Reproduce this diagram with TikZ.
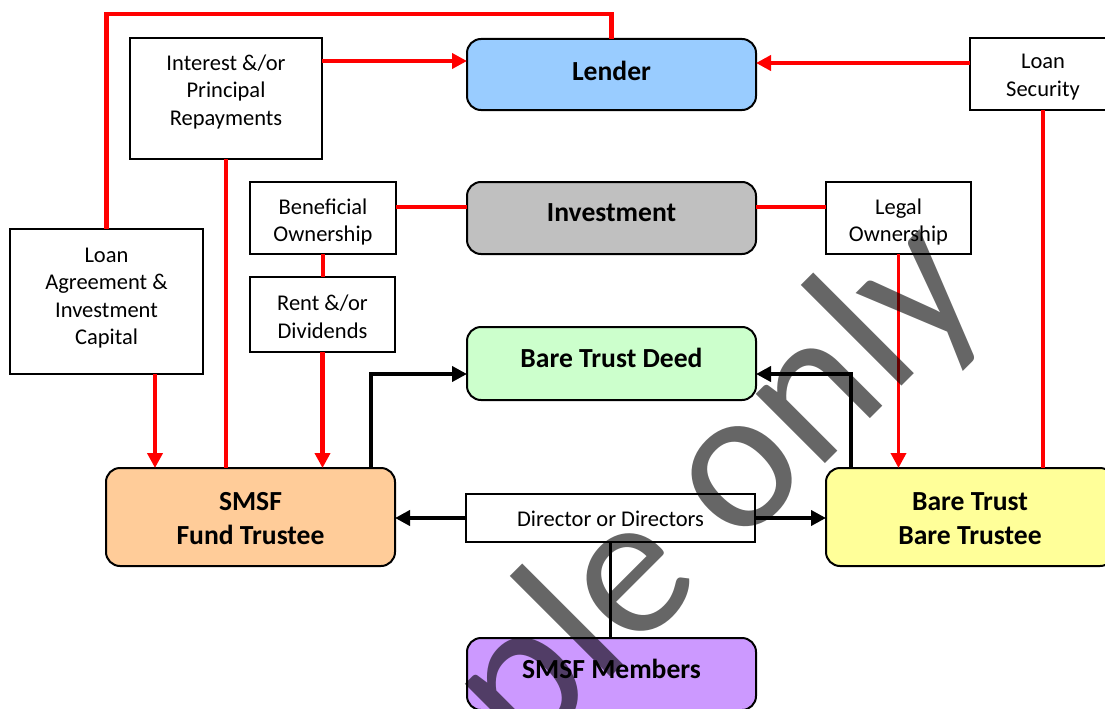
\documentclass[tikz,border=0pt]{standalone}
\usepackage{fontspec}
\setmainfont{Carlito}
\usetikzlibrary{arrows.meta}

\definecolor{lenderfill}{HTML}{99CCFF}
\definecolor{investfill}{HTML}{C0C0C0}
\definecolor{deedfill}{HTML}{CCFFCC}
\definecolor{smsffill}{HTML}{FFCC99}
\definecolor{barefill}{HTML}{FFFF99}
\definecolor{memberfill}{HTML}{CC99FF}

\newcommand\lblfont{\fontsize{22.5}{27.5}\selectfont}
\newcommand\hdrfont{\fontsize{27.6}{34}\selectfont\bfseries}
\newcommand\wmkfont{\fontsize{205}{205}\selectfont}

\begin{document}
\begin{tikzpicture}[x=1pt,y=-1pt,
  frame/.style={draw=black, line width=1.6pt, fill=white, inner sep=0pt, outer sep=0pt},
  party/.style={draw=black, line width=2pt, rounded corners=14pt, inner sep=0pt, outer sep=0pt},
  plaintext/.style={font=\lblfont, align=center, inner sep=0pt},
  boldtext/.style={font=\hdrfont, align=center, inner sep=0pt},
  flow/.style={draw=red, line width=4.5pt},
  flowarrow/.style={flow, -{Triangle[length=15pt,width=15pt]}},
  link/.style={draw=black, line width=4pt},
  linkarrow/.style={link, -{Triangle[length=15pt,width=15pt]}},
]
\useasboundingbox (0,0) rectangle (1105,709);
\clip (0,0) rectangle (1105,709);

% ---- main parties (rounded boxes) ----
\node[party, fill=lenderfill, minimum width=289pt, minimum height=71pt] (lender) at (611.5,74.5) {};
\node[party, fill=investfill, minimum width=289pt, minimum height=72pt] (invest) at (611.5,218) {};
\node[party, fill=deedfill, minimum width=289pt, minimum height=73pt] (deed) at (611.5,363.5) {};
\node[party, fill=smsffill, minimum width=289pt, minimum height=98pt] (smsf) at (250.5,517) {};
\node[party, fill=barefill, minimum width=288pt, minimum height=98pt] (bare) at (970,517) {};
\node[party, fill=memberfill, minimum width=289pt, minimum height=72pt] (members) at (611.5,674) {};

\node[boldtext] (lender-t) at (611.5,71) {Lender};
\node[boldtext] (invest-t) at (611.5,213) {Investment};
\node[boldtext] (deed-t) at (611.5,358) {Bare Trust Deed};
\node[boldtext] (smsf-t) at (250.5,519) {SMSF\\Fund Trustee};
\node[boldtext] (bare-t) at (970,519) {Bare Trust\\Bare Trustee};
\node[boldtext] (members-t) at (611.5,669) {SMSF Members};

% ---- label boxes ----
\node[frame, minimum width=192pt, minimum height=121pt] (interest) at (226,98.5) {};
\node[frame, minimum width=146pt, minimum height=72pt] (security) at (1043,74) {};
\node[frame, minimum width=146pt, minimum height=72pt] (benef) at (323,218) {};
\node[frame, minimum width=145pt, minimum height=75pt] (rent) at (322.5,314.5) {};
\node[frame, minimum width=145pt, minimum height=72pt] (legal) at (898.5,218) {};
\node[frame, minimum width=193pt, minimum height=145pt] (loanag) at (106.5,301.5) {};
\node[frame, minimum width=289pt, minimum height=48pt] (director) at (610.5,518) {};

\node[plaintext] (interest-t) at (226,92) {Interest \&/or\\Principal\\Repayments};
\node[plaintext] (security-t) at (1043,77) {Loan\\Security};
\node[plaintext] (benef-t) at (323,222) {Beneficial\\Ownership};
\node[plaintext] (rent-t) at (322.5,317) {Rent \&/or\\Dividends};
\node[plaintext] (legal-t) at (898.5,222) {Legal\\Ownership};
\node[plaintext] (loanag-t) at (106.5,298) {Loan\\Agreement \&\\Investment\\Capital};
\node[plaintext] (director-t) at (610.5,519) {Director or Directors};

% ---- money and ownership flows (red) ----
\draw[flow] (loanag.north) |- ([yshift=25pt]lender.north) -- (lender.north);
\draw[flowarrow] ([yshift=-23pt]interest.north east) coordinate (ip) -- (ip -| lender.west);
\draw[flowarrow] ([yshift=11pt]security.west) coordinate (ls) -- (ls -| lender.east);
\draw[flow] (interest.south) -- (interest.south |- smsf.north);
\draw[flow] ([yshift=11pt]benef.east) coordinate (bo) -- (bo -| invest.west);
\draw[flow] ([yshift=11pt]invest.east) coordinate (io) -- (io -| legal.west);
\draw[flow] (benef.south) -- (benef.south |- rent.north);
\draw[flowarrow] (rent.south) -- (rent.south |- smsf.north);
\draw[flowarrow] ([xshift=48.5pt]loanag.south) coordinate (la) -- (la |- smsf.north);
\draw[flowarrow, line width=3.5pt] (legal.south) -- (legal.south |- bare.north);
\draw[flow, line width=4pt] (security.south) -- (security.south |- bare.north);

% ---- trust and control links (black) ----
\draw[linkarrow] ([xshift=-24pt]smsf.north east) |- ([yshift=-10.5pt]deed.west);
\draw[linkarrow] ([xshift=25pt]bare.north west) |- ([yshift=-10.5pt]deed.east);
\draw[linkarrow] (director.west) -- (director.west -| smsf.east);
\draw[linkarrow] (director.east) -- (director.east -| bare.west);
\draw[link, line width=3.5pt] (director.south) -- (director.south |- members.north);

% ---- watermark ----
\node[font=\wmkfont, text=black, opacity=0.6, text opacity=0.6, rotate=45, inner sep=0pt] (stamp) at (593,618) {Sample only};
\end{tikzpicture}
\end{document}
